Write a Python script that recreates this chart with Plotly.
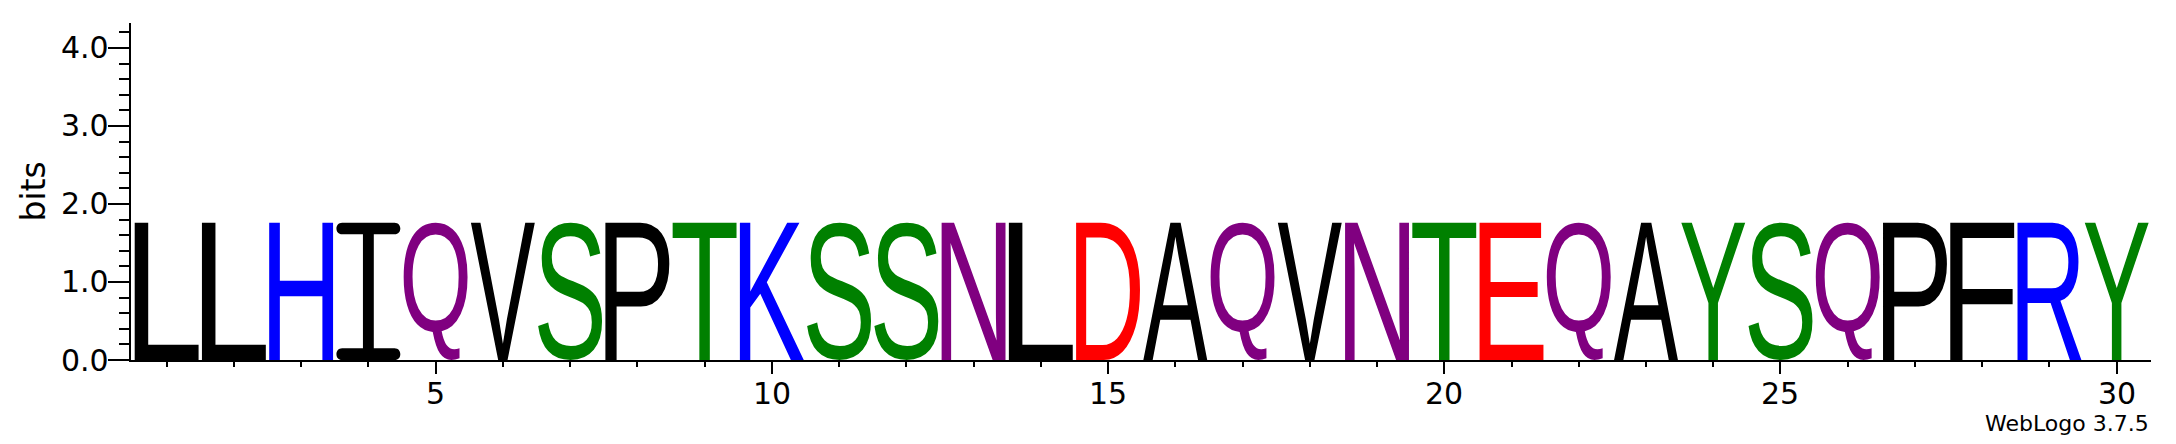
import glob
import os
import struct

import plotly.graph_objects as go

positions = list(range(1, 31))
letters = ["L", "L", "H", "I", "Q", "V", "S", "P", "T", "K",
           "S", "S", "N", "L", "D", "A", "Q", "V", "N", "T",
           "E", "Q", "A", "Y", "S", "Q", "P", "F", "R", "Y"]
heights = [1.76, 1.76, 1.76, 1.76, 1.76, 1.76, 1.76, 1.76, 1.76, 1.76,
           1.76, 1.76, 1.76, 1.76, 1.76, 1.76, 1.76, 1.76, 1.76, 1.76,
           1.76, 1.76, 1.76, 1.76, 1.76, 1.76, 1.76, 1.76, 1.76, 1.76]
x_tick_vals = [5, 10, 15, 20, 25, 30]
x_tick_text = ["5", "10", "15", "20", "25", "30"]
y_tick_vals = [0, 1, 2, 3, 4]
y_tick_text = ["0.0", "1.0", "2.0", "3.0", "4.0"]
y_max_bits = 4.32
y_label = "bits"
credit = "WebLogo 3.7.5"

# WebLogo "chemistry" colour scheme
color_groups = {
    "GSTYC": "#008000",
    "NQ": "#800080",
    "KRH": "#0000FF",
    "DE": "#FF0000",
    "AVLIPWFM": "#000000",
}


def letter_color(ch):
    for group, col in color_groups.items():
        if ch in group:
            return col
    return "#000000"


# ---------------- glyph outlines from an installed TrueType font ----------------
def find_font():
    names = ["LiberationSans-Regular.ttf", "Arimo-Regular.ttf", "DejaVuSans.ttf"]
    roots = ["/usr/share/fonts", "/usr/local/share/fonts", os.path.expanduser("~/.fonts")]
    for name in names:
        for root in roots:
            hits = glob.glob(os.path.join(root, "**", name), recursive=True)
            if hits:
                return hits[0]
    return None


class TTF:
    def __init__(self, path):
        d = open(path, "rb").read()
        self.d = d
        n = struct.unpack(">H", d[4:6])[0]
        self.t = {}
        for i in range(n):
            rec = d[12 + 16 * i: 28 + 16 * i]
            self.t[rec[:4].decode("latin-1")] = struct.unpack(">I", rec[8:12])[0]
        head = self.t["head"]
        loc_fmt = struct.unpack(">h", d[head + 50: head + 52])[0]
        maxp = self.t["maxp"]
        ng = struct.unpack(">H", d[maxp + 4: maxp + 6])[0]
        loca = self.t["loca"]
        if loc_fmt == 0:
            self.offs = [2 * v for v in struct.unpack(">%dH" % (ng + 1), d[loca: loca + 2 * (ng + 1)])]
        else:
            self.offs = list(struct.unpack(">%dI" % (ng + 1), d[loca: loca + 4 * (ng + 1)]))
        cmap = self.t["cmap"]
        nsub = struct.unpack(">H", d[cmap + 2: cmap + 4])[0]
        sub = None
        for i in range(nsub):
            pid, eid, so = struct.unpack(">HHI", d[cmap + 4 + 8 * i: cmap + 12 + 8 * i])
            fmt = struct.unpack(">H", d[cmap + so: cmap + so + 2])[0]
            if fmt == 4 and (sub is None or (pid == 3 and eid == 1)):
                sub = cmap + so
        seg2 = struct.unpack(">H", d[sub + 6: sub + 8])[0]
        seg = seg2 // 2
        self.seg = seg
        self.ends = struct.unpack(">%dH" % seg, d[sub + 14: sub + 14 + seg2])
        self.starts = struct.unpack(">%dH" % seg, d[sub + 16 + seg2: sub + 16 + 2 * seg2])
        self.deltas = struct.unpack(">%dh" % seg, d[sub + 16 + 2 * seg2: sub + 16 + 3 * seg2])
        self.ro_pos = sub + 16 + 3 * seg2
        self.ros = struct.unpack(">%dH" % seg, d[self.ro_pos: self.ro_pos + seg2])

    def gid(self, ch):
        c = ord(ch)
        d = self.d
        for i in range(self.seg):
            if self.starts[i] <= c <= self.ends[i]:
                if self.ros[i] == 0:
                    return (c + self.deltas[i]) & 0xFFFF
                addr = self.ro_pos + 2 * i + self.ros[i] + 2 * (c - self.starts[i])
                g = struct.unpack(">H", d[addr: addr + 2])[0]
                return (g + self.deltas[i]) & 0xFFFF if g else 0
        return 0

    def glyph(self, ch):
        d = self.d
        o = self.t["glyf"] + self.offs[self.gid(ch)]
        nc, xmin, ymin, xmax, ymax = struct.unpack(">hhhhh", d[o: o + 10])
        if nc <= 0:
            return None
        p = o + 10
        ends = struct.unpack(">%dH" % nc, d[p: p + 2 * nc])
        p += 2 * nc
        il = struct.unpack(">H", d[p: p + 2])[0]
        p += 2 + il
        npts = ends[-1] + 1
        flags = []
        while len(flags) < npts:
            f = d[p]
            p += 1
            flags.append(f)
            if f & 8:
                r = d[p]
                p += 1
                flags.extend([f] * r)
        flags = flags[:npts]
        xs, ys = [], []
        v = 0
        for f in flags:
            if f & 2:
                dv = d[p]
                p += 1
                v += dv if f & 16 else -dv
            elif not (f & 16):
                v += struct.unpack(">h", d[p: p + 2])[0]
                p += 2
            xs.append(v)
        v = 0
        for f in flags:
            if f & 4:
                dv = d[p]
                p += 1
                v += dv if f & 32 else -dv
            elif not (f & 32):
                v += struct.unpack(">h", d[p: p + 2])[0]
                p += 2
            ys.append(v)
        contours = []
        s = 0
        for e in ends:
            contours.append([(xs[k], ys[k], flags[k] & 1) for k in range(s, e + 1)])
            s = e + 1
        return (xmin, ymin, xmax, ymax), contours


def fmt_pt(p):
    return "%.5f,%.5f" % (p[0], p[1])


def contour_to_path(pts, tf):
    n = len(pts)
    start = next((k for k in range(n) if pts[k][2]), None)
    if start is None:
        a, b = pts[0], pts[1]
        pts = [((a[0] + b[0]) / 2.0, (a[1] + b[1]) / 2.0, 1)] + pts[1:] + [pts[0]]
        start = 0
    seq = pts[start:] + pts[:start]
    out = "M" + fmt_pt(tf(seq[0]))
    prev_off = None
    for pt in seq[1:] + [seq[0]]:
        if pt[2]:
            if prev_off is None:
                out += "L" + fmt_pt(tf(pt))
            else:
                out += "Q" + fmt_pt(tf(prev_off)) + " " + fmt_pt(tf(pt))
                prev_off = None
        else:
            if prev_off is None:
                prev_off = pt
            else:
                mid = ((prev_off[0] + pt[0]) / 2.0, (prev_off[1] + pt[1]) / 2.0)
                out += "Q" + fmt_pt(tf(prev_off)) + " " + fmt_pt(tf(mid))
                prev_off = pt
    return out + "Z"


def serif_i_path(x0, x1, y0, y1):
    # WebLogo draws "I" with rounded serif bars
    w = x1 - x0
    h = y1 - y0
    bh = 0.085 * h
    r = 0.09 * w
    sw = 0.17 * w
    xm = (x0 + x1) / 2.0
    k = 4.0 / 3.0 * r
    P = lambda x, y: "%.5f,%.5f" % (x, y)
    s = "M" + P(x0 + r, y1)
    s += "L" + P(x1 - r, y1)
    s += "C" + P(x1 - r + k, y1) + " " + P(x1 - r + k, y1 - bh) + " " + P(x1 - r, y1 - bh)
    s += "L" + P(xm + sw / 2, y1 - bh)
    s += "L" + P(xm + sw / 2, y0 + bh)
    s += "L" + P(x1 - r, y0 + bh)
    s += "C" + P(x1 - r + k, y0 + bh) + " " + P(x1 - r + k, y0) + " " + P(x1 - r, y0)
    s += "L" + P(x0 + r, y0)
    s += "C" + P(x0 + r - k, y0) + " " + P(x0 + r - k, y0 + bh) + " " + P(x0 + r, y0 + bh)
    s += "L" + P(xm - sw / 2, y0 + bh)
    s += "L" + P(xm - sw / 2, y1 - bh)
    s += "L" + P(x0 + r, y1 - bh)
    s += "C" + P(x0 + r - k, y1 - bh) + " " + P(x0 + r - k, y1) + " " + P(x0 + r, y1)
    return s + "Z"


font_path = find_font()
font = TTF(font_path) if font_path else None

LETTER_WIDTH = 0.95  # fraction of a column occupied by a letter

fig = go.Figure()
shapes = []
fallback_x, fallback_y, fallback_t, fallback_c = [], [], [], []
for pos, ch, h in zip(positions, letters, heights):
    col = letter_color(ch)
    x0 = pos - LETTER_WIDTH / 2.0
    x1 = pos + LETTER_WIDTH / 2.0
    y0, y1 = 0.0, h
    path = None
    if ch == "I":
        path = serif_i_path(x0, x1, y0, y1)
    elif font is not None:
        g = font.glyph(ch)
        if g is not None:
            (gx0, gy0, gx1, gy1), contours = g
            sx = (x1 - x0) / float(gx1 - gx0)
            sy = (y1 - y0) / float(gy1 - gy0)
            tf = lambda p, gx0=gx0, gy0=gy0, sx=sx, sy=sy, x0=x0, y0=y0: (x0 + (p[0] - gx0) * sx, y0 + (p[1] - gy0) * sy)
            path = "".join(contour_to_path(c, tf) for c in contours)
    if path is not None:
        shapes.append(dict(type="path", xref="x", yref="y", path=path,
                           fillcolor=col, line=dict(width=0), layer="above"))
    else:
        fallback_x.append(pos)
        fallback_y.append(h / 2.0)
        fallback_t.append(ch)
        fallback_c.append(col)

# invisible trace so the axes exist (and carry the data for hover)
fig.add_trace(go.Scatter(x=positions, y=heights, mode="markers",
                         marker=dict(opacity=0), text=letters,
                         hovertemplate="%{x}: %{text} %{y:.2f} bits<extra></extra>",
                         showlegend=False))
if fallback_t:
    fig.add_trace(go.Scatter(x=fallback_x, y=fallback_y, mode="text", text=fallback_t,
                             textfont=dict(size=150, color=fallback_c, family="Liberation Sans"),
                             showlegend=False))

tick_font = dict(family="DejaVu Sans", size=30, color="black")

# tick labels placed precisely next to their ticks (positions come from the axes)
annotations = []
for v, t in zip(x_tick_vals, x_tick_text):
    annotations.append(dict(text=t, xref="x", yref="paper", x=v, y=0, yshift=-33,
                            xanchor="center", yanchor="middle", showarrow=False,
                            font=tick_font))
for v, t in zip(y_tick_vals, y_tick_text):
    annotations.append(dict(text=t, xref="paper", yref="y", x=0, y=v, xshift=-20,
                            xanchor="right", yanchor="middle", showarrow=False,
                            font=tick_font))
annotations.append(dict(text=y_label, xref="paper", yref="paper", x=-98 / 2020.0, y=0.5,
                        xanchor="center", yanchor="middle", textangle=-90, showarrow=False,
                        font=dict(family="DejaVu Sans", size=33, color="black")))
annotations.append(dict(text=credit, xref="paper", yref="paper", x=1.0, y=0, yshift=-63,
                        xanchor="right", yanchor="middle", showarrow=False,
                        font=dict(family="DejaVu Sans", size=22, color="black")))

# the page body has an 8 px margin, so the figure is 16 px smaller than the window
fig.update_layout(
    width=2160,
    height=428,
    margin=dict(l=123, r=17, t=15, b=76),
    plot_bgcolor="white",
    paper_bgcolor="white",
    shapes=shapes,
    showlegend=False,
    annotations=annotations,
    xaxis=dict(
        range=[0.47, 30.51],
        showline=True, linecolor="black", linewidth=2,
        ticks="outside", ticklen=12, tickwidth=2, tickcolor="black",
        tickmode="array", tickvals=x_tick_vals, ticktext=x_tick_text,
        showticklabels=False,
        minor=dict(tickmode="array", tickvals=positions, ticks="outside",
                   ticklen=5, tickwidth=2, tickcolor="black", showgrid=False),
        showgrid=False, zeroline=False,
    ),
    yaxis=dict(
        range=[0, y_max_bits],
        showline=True, linecolor="black", linewidth=2,
        ticks="outside", ticklen=21, tickwidth=2, tickcolor="black",
        tickmode="array", tickvals=y_tick_vals, ticktext=y_tick_text,
        showticklabels=False,
        minor=dict(tick0=0, dtick=0.2, ticks="outside",
                   ticklen=10, tickwidth=2, tickcolor="black", showgrid=False),
        showgrid=False, zeroline=False,
    ),
)

fig.write_html("out.html")
